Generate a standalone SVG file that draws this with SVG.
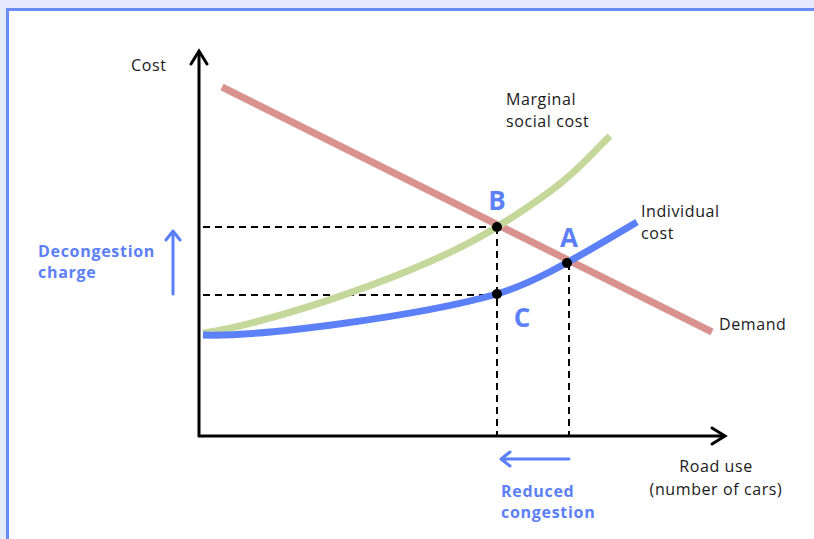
<svg xmlns="http://www.w3.org/2000/svg" width="814" height="539" viewBox="0 0 814 539">
<style>
.t{font-family:"Open Sans","Noto Sans",sans-serif;font-size:16px;letter-spacing:0.6px;fill:#1a1a1a}
.b{font-family:"Open Sans","Noto Sans",sans-serif;font-size:16px;letter-spacing:0.7px;font-weight:700;fill:#5b80f7}
.L{font-family:"Open Sans","Noto Sans",sans-serif;font-size:26px;font-weight:700;fill:#5b80f7}
.ax{stroke:#000;stroke-width:3;fill:none}
.dash{stroke:#000;stroke-width:2;stroke-dasharray:7 5;fill:none}
.cur{fill:none;stroke-width:7}
.ba{stroke:#5b80f7;stroke-width:3;fill:none;stroke-linecap:round;stroke-linejoin:round}
</style>
<rect x="0" y="0" width="814" height="539" fill="#e6eafd"/>
<rect x="7.5" y="9.5" width="820" height="540" fill="#fff" stroke="#6a8af6" stroke-width="3"/>
<g id="axes">
<path class="ax" d="M199,437 V52"/>
<path class="ax" d="M191,64 L199,51 L207,64" stroke-linecap="round" stroke-width="3.5"/>
<path class="ax" d="M198,436 H725"/>
<path class="ax" d="M712,428 L725,436 L712,444" stroke-linecap="round" stroke-width="3.5"/>
</g>
<g id="connectors">
<path class="dash" d="M203,227 H497 M203,295 H497 M497,227 V436 M569,263 V436"/>
</g>
<g id="demand"><path class="cur" stroke="#d9928f" d="M222,87 L712,332"/></g>
<g id="msc"><path class="cur" stroke="#c5d89c" d="M203,333 C260,326 420,275 497,227 S580,165 610,136"/></g>
<g id="ic"><path class="cur" stroke="#5b80f7" d="M203,335 C260,337 420,316 497,294 C530,284 560,268 637,222"/></g>
<g id="points" fill="#000">
<circle cx="497" cy="227" r="5"/>
<circle cx="497" cy="294" r="5"/>
<circle cx="567" cy="263" r="5"/>
</g>
<g id="labels">
<text class="t" x="131" y="71">Cost</text>
<text class="t" x="506" y="105">Marginal</text>
<text class="t" x="506" y="127">social cost</text>
<text class="t" x="641" y="217">Individual</text>
<text class="t" x="641" y="239">cost</text>
<text class="t" x="719" y="330">Demand</text>
<text class="t" x="716" y="472" text-anchor="middle">Road use</text>
<text class="t" x="716" y="495" text-anchor="middle">(number of cars)</text>
<text class="L" x="497" y="210" text-anchor="middle">B</text>
<text class="L" x="569" y="247" text-anchor="middle">A</text>
<text class="L" x="522" y="327" text-anchor="middle">C</text>
</g>
<g id="decongestion">
<path class="ba" d="M173,294 V232 M166,240 L173,231 L180,240"/>
<text class="b" x="38" y="257">Decongestion</text>
<text class="b" x="38" y="278">charge</text>
</g>
<g id="reduced">
<path class="ba" d="M569,459 H502 M510,452 L501,459 L510,466"/>
<text class="b" x="501" y="497">Reduced</text>
<text class="b" x="501" y="518">congestion</text>
</g>
</svg>
